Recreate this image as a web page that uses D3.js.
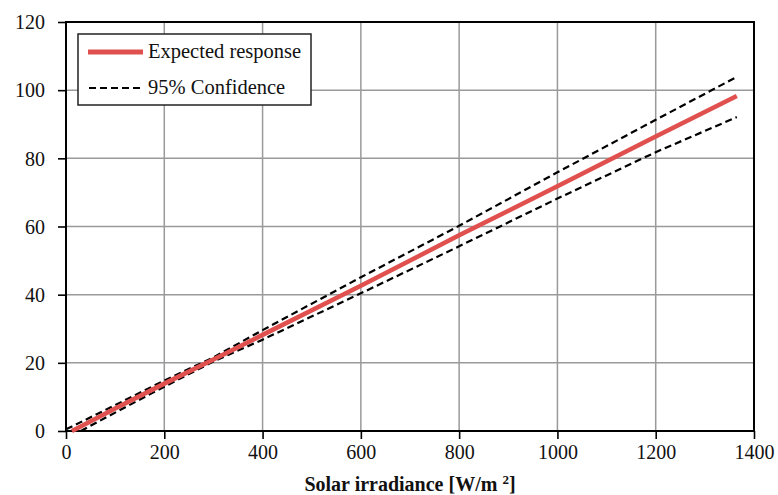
<!DOCTYPE html>
<html>
<head>
<meta charset="utf-8">
<script src="https://cdn.jsdelivr.net/npm/d3@7"></script>
<style>
  body { margin: 0; background: #fff; }
  text { font-family: "Liberation Serif", "DejaVu Serif", serif; }
</style>
</head>
<body>
<script>
// values
const irradiance = [0, 12, 30, 100, 200, 300, 400, 600, 800, 1000, 1200, 1365];
const expected   = [null, 0, 1.3, 6.6, 13.9, 21.0, 28.2, 42.6, 57.4, 71.8, 86.4, 98.3];
const upper      = [0.5, 1.3, 2.6, 7.6, 14.8, 21.6, 29.6, 45.1, 60.2, 75.9, 91.3, 103.9];
const lower      = [null, null, 0, 5.4, 13.0, 20.4, 26.8, 40.4, 54.2, 68.2, 81.8, 92.1];
const xTicks = [0, 200, 400, 600, 800, 1000, 1200, 1400];
const yTicks = [0, 20, 40, 60, 80, 100, 120];
const legendLabels = ["Expected response", "95% Confidence"];

const width = 778, height = 495;
const margin = {top: 22, right: 24, bottom: 64, left: 66};

const svg = d3.select("body")
  .append("svg")
  .attr("width", width)
  .attr("height", height);

const x = d3.scaleLinear()
  .domain([0, 1400])
  .range([margin.left, width - margin.right]);

const y = d3.scaleLinear()
  .domain([0, 120])
  .range([height - margin.bottom, margin.top]);

// grid
svg.append("g")
  .selectAll("line")
  .data(xTicks.slice(1, -1))
  .enter()
  .append("line")
  .attr("x1", function(d) { return x(d); })
  .attr("x2", function(d) { return x(d); })
  .attr("y1", y(0))
  .attr("y2", y(120))
  .attr("stroke", "#9a9a9a")
  .attr("stroke-width", 1.5);

svg.append("g")
  .selectAll("line")
  .data(yTicks.slice(1, -1))
  .enter()
  .append("line")
  .attr("x1", x(0))
  .attr("x2", x(1400))
  .attr("y1", function(d) { return y(d); })
  .attr("y2", function(d) { return y(d); })
  .attr("stroke", "#9a9a9a")
  .attr("stroke-width", 1.5);

// axes
const xAxis = svg.append("g")
  .attr("transform", "translate(0," + y(0) + ")")
  .call(d3.axisBottom(x).tickValues(xTicks).tickSize(8).tickPadding(6).tickFormat(d3.format("d")));

const yAxis = svg.append("g")
  .attr("transform", "translate(" + x(0) + ",0)")
  .call(d3.axisLeft(y).tickValues(yTicks).tickSize(8).tickPadding(13).tickFormat(d3.format("d")));

[xAxis, yAxis].forEach(function(a) {
  a.select(".domain").remove();
  a.selectAll("line").attr("stroke", "#000").attr("stroke-width", 1.6);
  a.selectAll("text")
    .attr("font-family", "Liberation Serif")
    .attr("font-size", 20)
    .attr("fill", "#111");
});
yAxis.selectAll("text").attr("dy", "0.34em");

// frame
svg.append("rect")
  .attr("x", x(0))
  .attr("y", y(120))
  .attr("width", x(1400) - x(0))
  .attr("height", y(0) - y(120))
  .attr("fill", "none")
  .attr("stroke", "#000")
  .attr("stroke-width", 2);

// curves
function series(vals) {
  return irradiance.map(function(d, i) { return [d, vals[i]]; })
    .filter(function(p) { return p[1] !== null; });
}

const line = d3.line()
  .x(function(d) { return x(d[0]); })
  .y(function(d) { return y(d[1]); });

[upper, lower].forEach(function(vals) {
  svg.append("path")
    .datum(series(vals))
    .attr("d", line)
    .attr("fill", "none")
    .attr("stroke", "#000")
    .attr("stroke-width", 2.2)
    .attr("stroke-dasharray", "7,4");
});

svg.append("path")
  .datum(series(expected))
  .attr("d", line)
  .attr("fill", "none")
  .attr("stroke", "#e0504e")
  .attr("stroke-width", 4.5);

// legend
const legend = svg.append("g");
legend.append("rect")
  .attr("x", 78)
  .attr("y", 34)
  .attr("width", 233)
  .attr("height", 71)
  .attr("fill", "#fff")
  .attr("stroke", "#222")
  .attr("stroke-width", 1.5);

legend.append("line")
  .attr("x1", 88).attr("x2", 143)
  .attr("y1", 52).attr("y2", 52)
  .attr("stroke", "#e0504e")
  .attr("stroke-width", 5);

legend.append("line")
  .attr("x1", 89).attr("x2", 141)
  .attr("y1", 88).attr("y2", 88)
  .attr("stroke", "#000")
  .attr("stroke-width", 2.2)
  .attr("stroke-dasharray", "7,4");

legend.selectAll("text.lab")
  .data(legendLabels)
  .enter()
  .append("text")
  .attr("class", "lab")
  .attr("x", 148)
  .attr("y", function(d, i) { return i === 0 ? 58 : 94; })
  .attr("font-size", 20.5)
  .attr("fill", "#111")
  .text(function(d) { return d; });

// axis title
const title = svg.append("text")
  .attr("x", (x(0) + x(1400)) / 2)
  .attr("y", 491)
  .attr("text-anchor", "middle")
  .attr("font-size", 20)
  .attr("font-weight", "bold")
  .attr("fill", "#111");
title.append("tspan").text("Solar irradiance [W/m ");
title.append("tspan").attr("dy", -7).attr("font-size", 13).text("2");
title.append("tspan").attr("dy", 7).text("]");
</script>
</body>
</html>
